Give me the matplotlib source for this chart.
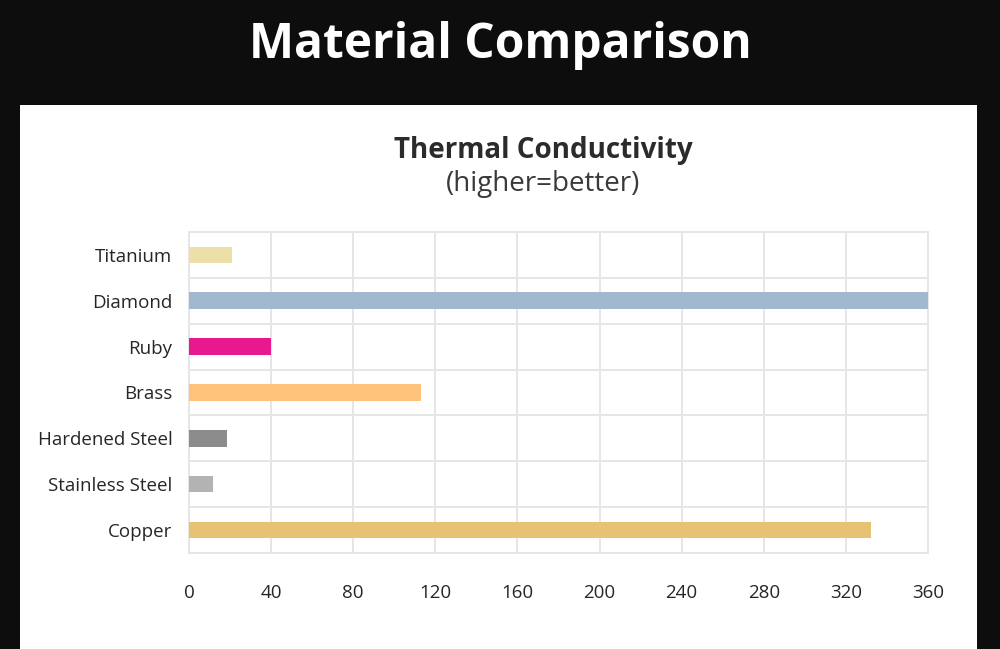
import numpy as np
import matplotlib.pyplot as plt
from matplotlib.patches import Rectangle

# data
materials = ['Titanium', 'Diamond', 'Ruby', 'Brass', 'Hardened Steel', 'Stainless Steel', 'Copper']
conductivity = [21, 360, 40, 113, 18.5, 11.7, 332]
bar_colors = ['#EDE0A6', '#A0B9CF', '#E8198F', '#FFC27A', '#8C8C8C', '#B3B3B3', '#E8C274']
x_ticks = [0, 40, 80, 120, 160, 200, 240, 280, 320, 360]

fig = plt.figure(figsize=(10, 6.49), dpi=100)
fig.patch.set_facecolor('#0d0d0d')

# white card behind the chart
fig.add_artist(Rectangle((0.02, 0.0), 0.957, (649 - 105) / 649, transform=fig.transFigure,
                         facecolor='white', edgecolor='none', zorder=0))

fig.text(0.5, 0.93, 'Material Comparison', color='white', fontsize=34.5,
         fontweight='bold', family='Open Sans', ha='center', va='center')
fig.text(0.543, 0.768, 'Thermal Conductivity', color='#2b2b2b', fontsize=20,
         fontweight='bold', family='Open Sans', ha='center', va='center')
fig.text(0.543, 0.717, '(higher=better)', color='#3a3a3a', fontsize=20,
         family='Open Sans', ha='center', va='center')

ax = fig.add_axes([0.189, 0.148, 0.739, 0.4946])
ax.set_facecolor('white')

y = np.arange(len(materials))
ax.barh(y, conductivity, height=0.36, color=bar_colors, zorder=3)

ax.set_xlim(0, 360)
ax.set_ylim(len(materials) - 0.5, -0.5)
ax.set_xticks(x_ticks)
ax.set_xticklabels([str(t) for t in x_ticks])
ax.set_yticks(y)
ax.set_yticklabels(materials)
ax.set_yticks(np.arange(len(materials) + 1) - 0.5, minor=True)

ax.grid(True, axis='x', which='major', color='#e6e6e6', linewidth=1.4, zorder=0)
ax.grid(True, axis='y', which='minor', color='#e6e6e6', linewidth=1.4, zorder=0)
ax.tick_params(which='both', length=0)
ax.tick_params(axis='x', pad=22, labelsize=13.5, labelcolor='#262626')
ax.tick_params(axis='y', pad=12, labelsize=13.5, labelcolor='#262626')
for lab in ax.get_xticklabels() + ax.get_yticklabels():
    lab.set_family('Open Sans')
for s in ax.spines.values():
    s.set_color('#e6e6e6')
    s.set_linewidth(1.4)

fig.savefig('out.png', dpi=100, facecolor=fig.get_facecolor())
